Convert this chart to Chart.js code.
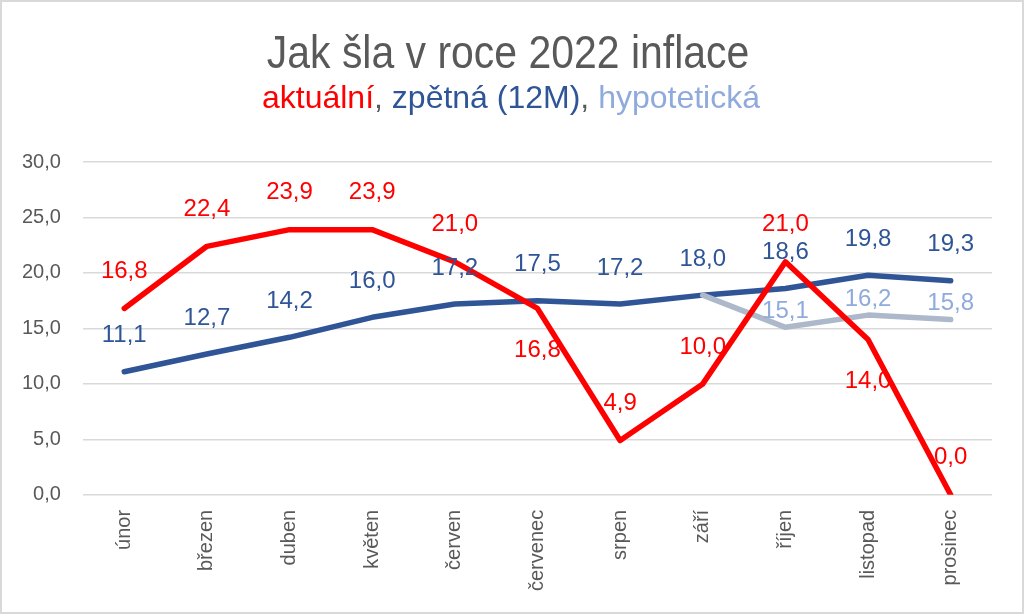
<!DOCTYPE html>
<html lang="cs">
<head>
<meta charset="UTF-8">
<title>Jak šla v roce 2022 inflace</title>
<script src="https://cdn.jsdelivr.net/npm/chart.js"></script>
<style>
  html, body { margin: 0; padding: 0; background: #fff; }
  #wrap { position: relative; width: 1024px; height: 614px; overflow: hidden; font-family: "Liberation Sans", Arial, sans-serif; }
  #frame { position: absolute; left: 0; top: 0; width: 1024px; height: 614px; box-sizing: border-box; border: 2px solid #d9d9d9; pointer-events: none; }
  #title { position: absolute; left: 0; top: 29px; width: 1016px; text-align: center; font-size: 46px; line-height: 46px; color: #595959; }
  #title span { display: inline-block; transform: scaleX(0.89); }
  #subtitle { position: absolute; left: 0; top: 81px; width: 1022px; text-align: center; font-size: 32px; line-height: 32px; color: #595959; }
  canvas { position: absolute; left: 0; top: 0; }
</style>
</head>
<body>
<div id="wrap">
  <canvas id="inflace" width="1024" height="614"></canvas>
  <div id="title"><span>Jak šla v roce 2022 inflace</span></div>
  <div id="subtitle"><span style="color:#ff0000">aktuální</span>, <span style="color:#2f5597">zpětná (12M)</span>, <span style="color:#8faadc">hypotetická</span></div>
  <div id="frame"></div>
</div>
<script>
  // data
  var months = ['únor', 'březen', 'duben', 'květen', 'červen', 'červenec', 'srpen', 'září', 'říjen', 'listopad', 'prosinec'];
  var aktualni = [16.8, 22.4, 23.9, 23.9, 21.0, 16.8, 4.9, 10.0, 21.0, 14.0, 0.0];
  var zpetna = [11.1, 12.7, 14.2, 16.0, 17.2, 17.5, 17.2, 18.0, 18.6, 19.8, 19.3];
  var hypoteticka = [null, null, null, null, null, null, null, 18.0, 15.1, 16.2, 15.8];
  var yTicks = [0, 5, 10, 15, 20, 25, 30];

  // where the red labels sit relative to their point
  var aktualniLabelPos = ['above', 'above', 'above', 'above', 'above', 'below', 'above', 'above', 'above', 'below', 'above'];

  function fmt(v) {
    return v.toFixed(1).replace('.', ',');
  }

  // simple data label plugin (no datalabels plugin offline)
  var valueLabels = {
    id: 'valueLabels',
    afterDatasetsDraw: function(chart) {
      var ctx = chart.ctx;
      ctx.save();
      ctx.font = '24px "Liberation Sans", Arial, sans-serif';
      ctx.textAlign = 'center';
      ctx.textBaseline = 'middle';
      chart.data.datasets.forEach(function(ds, di) {
        var meta = chart.getDatasetMeta(di);
        meta.data.forEach(function(pt, i) {
          var v = ds.data[i];
          if (v === null || v === undefined) return;
          if (ds.skipLabels && ds.skipLabels.indexOf(i) >= 0) return;
          var dy = -ds.labelOffset;
          if (ds.labelPos && ds.labelPos[i] === 'below') dy = ds.labelBelow;
          ctx.fillStyle = ds.labelColor;
          ctx.fillText(fmt(v), pt.x, pt.y + dy);
        });
      });
      ctx.restore();
    }
  };

  var ctx = document.getElementById('inflace').getContext('2d');
  var chart = new Chart(ctx, {
    type: 'line',
    data: {
      labels: months,
      datasets: [{
        label: 'aktuální',
        data: aktualni,
        borderColor: '#ff0000',
        borderWidth: 5.5,
        labelColor: '#ff0000',
        labelOffset: 37,
        labelBelow: 42,
        labelPos: aktualniLabelPos
      }, {
        label: 'hypotetická',
        data: hypoteticka,
        borderColor: '#adb9ca',
        borderWidth: 5.5,
        labelColor: '#8faadc',
        labelOffset: 16,
        skipLabels: [7]
      }, {
        label: 'zpětná (12M)',
        data: zpetna,
        borderColor: '#2f5597',
        borderWidth: 5.5,
        labelColor: '#2f5597',
        labelOffset: 36
      }]
    },
    options: {
      responsive: false,
      animation: false,
      devicePixelRatio: 1,
      layout: { padding: { top: 162, left: 0, right: 32, bottom: 16 } },
      elements: {
        point: { radius: 0, hoverRadius: 0 },
        line: { tension: 0, borderCapStyle: 'round', borderJoinStyle: 'round', fill: false }
      },
      plugins: {
        legend: { display: false },
        title: { display: false },
        tooltip: { enabled: false }
      },
      scales: {
        x: {
          offset: true,
          grid: { display: false },
          border: { display: false },
          ticks: {
            minRotation: 90,
            maxRotation: 90,
            padding: 7,
            color: '#595959',
            font: { family: '"Liberation Sans", Arial, sans-serif', size: 20 }
          }
        },
        y: {
          min: 0,
          max: 30,
          afterBuildTicks: function(axis) {
            axis.ticks = yTicks.map(function(v) { return { value: v }; });
          },
          grid: { color: '#d9d9d9', lineWidth: 1.5, drawTicks: false },
          border: { display: false },
          ticks: {
            padding: 22,
            color: '#595959',
            font: { family: '"Liberation Sans", Arial, sans-serif', size: 20 },
            callback: function(v) { return fmt(v); }
          }
        }
      }
    },
    plugins: [valueLabels]
  });
</script>
</body>
</html>
